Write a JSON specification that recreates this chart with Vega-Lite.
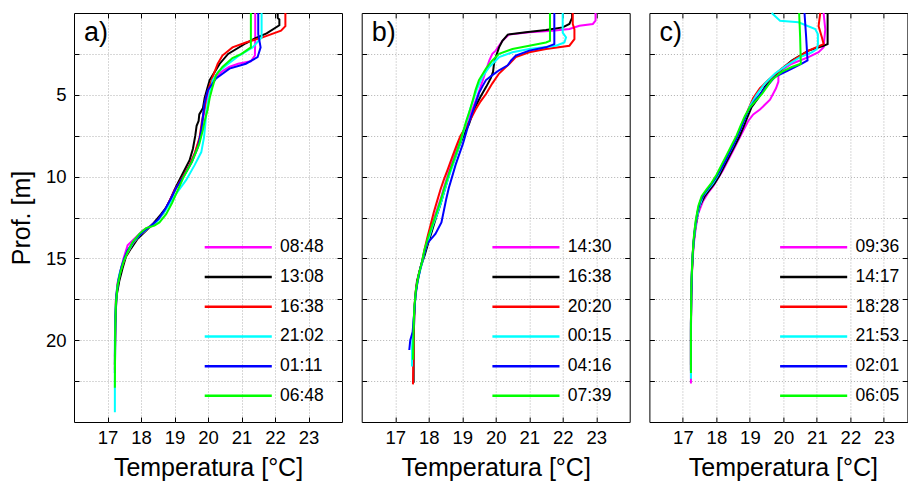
{
"$schema":"https://vega.github.io/schema/vega-lite/v6.json",
"padding":{"left":8,"top":8,"right":0,"bottom":0},
"background":"white",
"spacing":17.7,
"config":{
"font":"Liberation Sans",
"view":{"stroke":"#000","strokeWidth":1},
"axis":{"grid":true,"gridColor":"#b0b0b0","gridDash":[1,2],"gridWidth":1,"domain":false,"tickColor":"#000","tickSize":-5,"labelColor":"#000","titleColor":"#000","labelFont":"Liberation Sans","titleFont":"Liberation Sans","titleFontWeight":"normal","labelFontSize":18.5,"titleFontSize":25},
"title":{"font":"Liberation Sans","fontSize":27,"fontWeight":"normal","color":"#000","anchor":"start","frame":"group","offset":0,"baseline":"alphabetic","dx":10,"dy":41.5},
"legend":{"orient":"none","legendX":155.5,"legendY":225.6,"title":null,"symbolType":"M-5,0H5","symbolSize":180,"symbolStrokeWidth":2.5,"labelFontSize":17.5,"labelFont":"Liberation Sans","labelColor":"#000","labelOffset":33,"rowPadding":10.7,"padding":0}
},
"resolve":{"scale":{"color":"independent"},"legend":{"color":"independent"}},
"datasets":{
"a":[
{"h":"08:48","T":21.41,"d":0},{"h":"08:48","T":21.41,"d":1.5},{"h":"08:48","T":21.4,"d":2.6},{"h":"08:48","T":21.28,"d":2.95},{"h":"08:48","T":20.9,"d":3.1},{"h":"08:48","T":20.63,"d":3.3},{"h":"08:48","T":20.4,"d":3.6},{"h":"08:48","T":20.24,"d":3.9},{"h":"08:48","T":20.1,"d":4.4},{"h":"08:48","T":20.0,"d":5.0},{"h":"08:48","T":19.93,"d":5.6},{"h":"08:48","T":19.85,"d":6.5},{"h":"08:48","T":19.78,"d":7.5},{"h":"08:48","T":19.62,"d":8.5},{"h":"08:48","T":19.45,"d":9.3},{"h":"08:48","T":19.25,"d":10.0},{"h":"08:48","T":19.0,"d":10.8},{"h":"08:48","T":18.85,"d":11.5},{"h":"08:48","T":18.7,"d":12.1},{"h":"08:48","T":18.5,"d":12.6},{"h":"08:48","T":18.3,"d":13.0},{"h":"08:48","T":18.05,"d":13.3},{"h":"08:48","T":17.85,"d":13.7},{"h":"08:48","T":17.6,"d":14.2},{"h":"08:48","T":17.48,"d":15.0},{"h":"08:48","T":17.38,"d":15.8},{"h":"08:48","T":17.3,"d":16.5},{"h":"08:48","T":17.25,"d":17.6},{"h":"08:48","T":17.23,"d":19},{"h":"08:48","T":17.22,"d":21.0},
{"h":"13:08","T":22.08,"d":0},{"h":"13:08","T":22.08,"d":0.3},{"h":"13:08","T":22.13,"d":0.4},{"h":"13:08","T":22.13,"d":0.75},{"h":"13:08","T":21.75,"d":1.25},{"h":"13:08","T":21.4,"d":1.55},{"h":"13:08","T":21.13,"d":1.85},{"h":"13:08","T":20.6,"d":2.5},{"h":"13:08","T":20.35,"d":3.1},{"h":"13:08","T":20.2,"d":3.6},{"h":"13:08","T":20.05,"d":4.1},{"h":"13:08","T":19.98,"d":4.6},{"h":"13:08","T":19.9,"d":5.2},{"h":"13:08","T":19.85,"d":5.8},{"h":"13:08","T":19.74,"d":6.2},{"h":"13:08","T":19.72,"d":6.6},{"h":"13:08","T":19.66,"d":6.9},{"h":"13:08","T":19.62,"d":7.5},{"h":"13:08","T":19.55,"d":8.3},{"h":"13:08","T":19.45,"d":9.0},{"h":"13:08","T":19.25,"d":9.8},{"h":"13:08","T":19.05,"d":10.6},{"h":"13:08","T":18.9,"d":11.3},{"h":"13:08","T":18.75,"d":11.9},{"h":"13:08","T":18.6,"d":12.3},{"h":"13:08","T":18.35,"d":12.9},{"h":"13:08","T":18.1,"d":13.4},{"h":"13:08","T":17.9,"d":13.8},{"h":"13:08","T":17.7,"d":14.4},{"h":"13:08","T":17.55,"d":14.9},{"h":"13:08","T":17.45,"d":15.6},{"h":"13:08","T":17.35,"d":16.4},{"h":"13:08","T":17.27,"d":17.3},{"h":"13:08","T":17.23,"d":19},{"h":"13:08","T":17.22,"d":21.5},
{"h":"16:38","T":22.31,"d":0},{"h":"16:38","T":22.31,"d":0.8},{"h":"16:38","T":22.18,"d":1.08},{"h":"16:38","T":21.63,"d":1.49},{"h":"16:38","T":21.13,"d":1.8},{"h":"16:38","T":20.73,"d":2.1},{"h":"16:38","T":20.43,"d":2.6},{"h":"16:38","T":20.29,"d":3.1},{"h":"16:38","T":20.14,"d":3.9},{"h":"16:38","T":20.04,"d":4.5},{"h":"16:38","T":19.94,"d":5.15},{"h":"16:38","T":19.9,"d":5.8},{"h":"16:38","T":19.82,"d":6.6},{"h":"16:38","T":19.75,"d":7.6},{"h":"16:38","T":19.6,"d":8.6},{"h":"16:38","T":19.45,"d":9.3},{"h":"16:38","T":19.22,"d":10.1},{"h":"16:38","T":19.0,"d":10.85},{"h":"16:38","T":18.85,"d":11.5},{"h":"16:38","T":18.68,"d":12.2},{"h":"16:38","T":18.45,"d":12.8},{"h":"16:38","T":18.2,"d":13.2},{"h":"16:38","T":17.95,"d":13.6},{"h":"16:38","T":17.72,"d":14.2},{"h":"16:38","T":17.52,"d":15.0},{"h":"16:38","T":17.4,"d":15.7},{"h":"16:38","T":17.3,"d":16.6},{"h":"16:38","T":17.25,"d":17.6},{"h":"16:38","T":17.23,"d":19},{"h":"16:38","T":17.22,"d":21.8},
{"h":"21:02","T":21.6,"d":0},{"h":"21:02","T":21.6,"d":1.5},{"h":"21:02","T":21.33,"d":2.1},{"h":"21:02","T":20.93,"d":2.6},{"h":"21:02","T":20.54,"d":3.2},{"h":"21:02","T":20.3,"d":3.6},{"h":"21:02","T":20.14,"d":4.1},{"h":"21:02","T":20.06,"d":4.8},{"h":"21:02","T":20.0,"d":5.4},{"h":"21:02","T":19.95,"d":6.0},{"h":"21:02","T":19.92,"d":6.8},{"h":"21:02","T":19.88,"d":7.6},{"h":"21:02","T":19.8,"d":8.5},{"h":"21:02","T":19.6,"d":9.3},{"h":"21:02","T":19.35,"d":10.2},{"h":"21:02","T":19.1,"d":10.9},{"h":"21:02","T":18.9,"d":11.5},{"h":"21:02","T":18.72,"d":12.1},{"h":"21:02","T":18.5,"d":12.7},{"h":"21:02","T":18.25,"d":13.1},{"h":"21:02","T":18.0,"d":13.5},{"h":"21:02","T":17.78,"d":14.0},{"h":"21:02","T":17.58,"d":14.7},{"h":"21:02","T":17.45,"d":15.3},{"h":"21:02","T":17.35,"d":16.0},{"h":"21:02","T":17.28,"d":16.9},{"h":"21:02","T":17.24,"d":18},{"h":"21:02","T":17.22,"d":20},{"h":"21:02","T":17.22,"d":24.4},
{"h":"01:11","T":21.5,"d":0},{"h":"01:11","T":21.5,"d":1.3},{"h":"01:11","T":21.57,"d":2.1},{"h":"01:11","T":21.48,"d":2.7},{"h":"01:11","T":21.13,"d":3.1},{"h":"01:11","T":20.64,"d":3.4},{"h":"01:11","T":20.24,"d":4.0},{"h":"01:11","T":19.99,"d":4.74},{"h":"01:11","T":19.89,"d":5.56},{"h":"01:11","T":19.85,"d":6.3},{"h":"01:11","T":19.8,"d":7.2},{"h":"01:11","T":19.7,"d":8.2},{"h":"01:11","T":19.52,"d":9.1},{"h":"01:11","T":19.3,"d":9.9},{"h":"01:11","T":19.05,"d":10.7},{"h":"01:11","T":18.88,"d":11.4},{"h":"01:11","T":18.72,"d":12.0},{"h":"01:11","T":18.52,"d":12.6},{"h":"01:11","T":18.3,"d":13.0},{"h":"01:11","T":18.05,"d":13.4},{"h":"01:11","T":17.8,"d":13.9},{"h":"01:11","T":17.6,"d":14.5},{"h":"01:11","T":17.5,"d":15.0},{"h":"01:11","T":17.42,"d":15.5},{"h":"01:11","T":17.33,"d":16.3},{"h":"01:11","T":17.27,"d":17.2},{"h":"01:11","T":17.24,"d":18.5},{"h":"01:11","T":17.22,"d":22.0},
{"h":"06:48","T":21.28,"d":0},{"h":"06:48","T":21.28,"d":2.1},{"h":"06:48","T":21.0,"d":2.5},{"h":"06:48","T":20.73,"d":2.75},{"h":"06:48","T":20.43,"d":3.3},{"h":"06:48","T":20.24,"d":3.8},{"h":"06:48","T":20.14,"d":4.5},{"h":"06:48","T":20.05,"d":5.2},{"h":"06:48","T":19.99,"d":5.9},{"h":"06:48","T":19.9,"d":6.6},{"h":"06:48","T":19.84,"d":7.2},{"h":"06:48","T":19.74,"d":8.0},{"h":"06:48","T":19.52,"d":9.1},{"h":"06:48","T":19.28,"d":10.0},{"h":"06:48","T":19.08,"d":10.9},{"h":"06:48","T":18.93,"d":11.6},{"h":"06:48","T":18.75,"d":12.3},{"h":"06:48","T":18.55,"d":12.8},{"h":"06:48","T":18.4,"d":13.0},{"h":"06:48","T":18.15,"d":13.15},{"h":"06:48","T":17.95,"d":13.5},{"h":"06:48","T":17.75,"d":14.0},{"h":"06:48","T":17.6,"d":14.6},{"h":"06:48","T":17.48,"d":15.2},{"h":"06:48","T":17.38,"d":15.9},{"h":"06:48","T":17.3,"d":16.7},{"h":"06:48","T":17.25,"d":17.8},{"h":"06:48","T":17.23,"d":19.5},{"h":"06:48","T":17.22,"d":22.9}
],
"b":[
{"h":"14:30","T":22.98,"d":0},{"h":"14:30","T":22.98,"d":0.47},{"h":"14:30","T":22.9,"d":0.67},{"h":"14:30","T":22.5,"d":0.78},{"h":"14:30","T":22.2,"d":0.98},{"h":"14:30","T":21.7,"d":1.08},{"h":"14:30","T":21.0,"d":1.18},{"h":"14:30","T":20.4,"d":1.32},{"h":"14:30","T":20.2,"d":1.7},{"h":"14:30","T":20.0,"d":2.3},{"h":"14:30","T":19.9,"d":2.5},{"h":"14:30","T":19.81,"d":2.9},{"h":"14:30","T":19.71,"d":3.5},{"h":"14:30","T":19.65,"d":3.9},{"h":"14:30","T":19.55,"d":4.5},{"h":"14:30","T":19.45,"d":5.1},{"h":"14:30","T":19.32,"d":5.8},{"h":"14:30","T":19.15,"d":6.6},{"h":"14:30","T":19.0,"d":7.4},{"h":"14:30","T":18.85,"d":8.2},{"h":"14:30","T":18.72,"d":9.0},{"h":"14:30","T":18.6,"d":9.7},{"h":"14:30","T":18.48,"d":10.5},{"h":"14:30","T":18.38,"d":11.2},{"h":"14:30","T":18.25,"d":12.0},{"h":"14:30","T":18.12,"d":12.8},{"h":"14:30","T":18.0,"d":13.6},{"h":"14:30","T":17.92,"d":14.3},{"h":"14:30","T":17.85,"d":14.9},{"h":"14:30","T":17.75,"d":15.6},{"h":"14:30","T":17.65,"d":16.5},{"h":"14:30","T":17.6,"d":17.3},{"h":"14:30","T":17.57,"d":18.5},{"h":"14:30","T":17.55,"d":20.0},
{"h":"16:38","T":22.28,"d":0},{"h":"16:38","T":22.28,"d":0.3},{"h":"16:38","T":22.2,"d":0.67},{"h":"16:38","T":22.0,"d":0.88},{"h":"16:38","T":21.5,"d":1.04},{"h":"16:38","T":20.9,"d":1.18},{"h":"16:38","T":20.36,"d":1.32},{"h":"16:38","T":20.2,"d":1.7},{"h":"16:38","T":20.1,"d":2.1},{"h":"16:38","T":20.0,"d":2.7},{"h":"16:38","T":19.95,"d":3.1},{"h":"16:38","T":19.92,"d":3.6},{"h":"16:38","T":19.85,"d":4.0},{"h":"16:38","T":19.72,"d":4.5},{"h":"16:38","T":19.55,"d":5.1},{"h":"16:38","T":19.4,"d":5.7},{"h":"16:38","T":19.3,"d":6.2},{"h":"16:38","T":19.2,"d":6.8},{"h":"16:38","T":19.1,"d":7.2},{"h":"16:38","T":19.0,"d":7.7},{"h":"16:38","T":18.9,"d":8.2},{"h":"16:38","T":18.78,"d":8.9},{"h":"16:38","T":18.65,"d":9.6},{"h":"16:38","T":18.55,"d":10.3},{"h":"16:38","T":18.45,"d":11.0},{"h":"16:38","T":18.35,"d":11.7},{"h":"16:38","T":18.22,"d":12.5},{"h":"16:38","T":18.1,"d":13.3},{"h":"16:38","T":17.98,"d":14.1},{"h":"16:38","T":17.88,"d":14.8},{"h":"16:38","T":17.75,"d":15.6},{"h":"16:38","T":17.65,"d":16.4},{"h":"16:38","T":17.6,"d":17.3},{"h":"16:38","T":17.57,"d":18.5},{"h":"16:38","T":17.55,"d":20},{"h":"16:38","T":17.55,"d":22.6},
{"h":"20:20","T":22.3,"d":0},{"h":"20:20","T":22.3,"d":0.67},{"h":"20:20","T":22.35,"d":1.0},{"h":"20:20","T":22.35,"d":1.6},{"h":"20:20","T":22.2,"d":2.0},{"h":"20:20","T":21.5,"d":2.2},{"h":"20:20","T":21.0,"d":2.4},{"h":"20:20","T":20.6,"d":2.7},{"h":"20:20","T":20.41,"d":3.1},{"h":"20:20","T":20.1,"d":3.7},{"h":"20:20","T":19.9,"d":4.3},{"h":"20:20","T":19.71,"d":4.95},{"h":"20:20","T":19.55,"d":5.4},{"h":"20:20","T":19.4,"d":5.9},{"h":"20:20","T":19.25,"d":6.5},{"h":"20:20","T":19.1,"d":7.0},{"h":"20:20","T":18.95,"d":7.5},{"h":"20:20","T":18.85,"d":8.0},{"h":"20:20","T":18.72,"d":8.7},{"h":"20:20","T":18.58,"d":9.5},{"h":"20:20","T":18.45,"d":10.2},{"h":"20:20","T":18.35,"d":10.8},{"h":"20:20","T":18.25,"d":11.5},{"h":"20:20","T":18.15,"d":12.2},{"h":"20:20","T":18.05,"d":13.0},{"h":"20:20","T":17.95,"d":13.8},{"h":"20:20","T":17.87,"d":14.5},{"h":"20:20","T":17.8,"d":15.2},{"h":"20:20","T":17.7,"d":16.0},{"h":"20:20","T":17.62,"d":16.9},{"h":"20:20","T":17.58,"d":17.8},{"h":"20:20","T":17.55,"d":19},{"h":"20:20","T":17.55,"d":20.5},{"h":"20:20","T":17.53,"d":22.7},
{"h":"00:15","T":22.0,"d":0},{"h":"00:15","T":22.0,"d":1.2},{"h":"00:15","T":22.1,"d":1.49},{"h":"00:15","T":22.05,"d":1.8},{"h":"00:15","T":21.8,"d":2.0},{"h":"00:15","T":21.0,"d":2.2},{"h":"00:15","T":20.5,"d":2.4},{"h":"00:15","T":20.1,"d":2.7},{"h":"00:15","T":19.81,"d":3.3},{"h":"00:15","T":19.6,"d":3.9},{"h":"00:15","T":19.45,"d":4.6},{"h":"00:15","T":19.35,"d":5.2},{"h":"00:15","T":19.25,"d":5.8},{"h":"00:15","T":19.15,"d":6.5},{"h":"00:15","T":19.05,"d":7.2},{"h":"00:15","T":18.95,"d":7.9},{"h":"00:15","T":18.85,"d":8.5},{"h":"00:15","T":18.72,"d":9.3},{"h":"00:15","T":18.6,"d":10.0},{"h":"00:15","T":18.48,"d":10.8},{"h":"00:15","T":18.38,"d":11.5},{"h":"00:15","T":18.25,"d":12.3},{"h":"00:15","T":18.12,"d":13.0},{"h":"00:15","T":18.0,"d":13.8},{"h":"00:15","T":17.88,"d":14.6},{"h":"00:15","T":17.8,"d":15.3},{"h":"00:15","T":17.7,"d":16.1},{"h":"00:15","T":17.62,"d":17.0},{"h":"00:15","T":17.57,"d":18.2},{"h":"00:15","T":17.53,"d":19.5},{"h":"00:15","T":17.5,"d":20.5},{"h":"00:15","T":17.5,"d":21.6},
{"h":"04:16","T":21.75,"d":0},{"h":"04:16","T":21.75,"d":1.9},{"h":"04:16","T":21.5,"d":2.1},{"h":"04:16","T":21.0,"d":2.3},{"h":"04:16","T":20.6,"d":2.6},{"h":"04:16","T":20.46,"d":2.9},{"h":"04:16","T":20.36,"d":3.2},{"h":"04:16","T":20.1,"d":3.5},{"h":"04:16","T":19.9,"d":3.8},{"h":"04:16","T":19.71,"d":4.1},{"h":"04:16","T":19.6,"d":4.5},{"h":"04:16","T":19.5,"d":4.9},{"h":"04:16","T":19.42,"d":5.4},{"h":"04:16","T":19.32,"d":6.0},{"h":"04:16","T":19.22,"d":6.6},{"h":"04:16","T":19.12,"d":7.3},{"h":"04:16","T":19.02,"d":8.0},{"h":"04:16","T":18.9,"d":8.7},{"h":"04:16","T":18.8,"d":9.3},{"h":"04:16","T":18.7,"d":10.0},{"h":"04:16","T":18.6,"d":10.7},{"h":"04:16","T":18.52,"d":11.4},{"h":"04:16","T":18.45,"d":12.1},{"h":"04:16","T":18.38,"d":12.8},{"h":"04:16","T":18.2,"d":13.5},{"h":"04:16","T":17.95,"d":14.1},{"h":"04:16","T":17.85,"d":14.8},{"h":"04:16","T":17.75,"d":15.6},{"h":"04:16","T":17.66,"d":16.5},{"h":"04:16","T":17.6,"d":17.4},{"h":"04:16","T":17.56,"d":18.5},{"h":"04:16","T":17.52,"d":19.5},{"h":"04:16","T":17.45,"d":20.0},{"h":"04:16","T":17.42,"d":20.6},
{"h":"07:39","T":21.62,"d":0},{"h":"07:39","T":21.62,"d":1.7},{"h":"07:39","T":21.5,"d":1.8},{"h":"07:39","T":21.0,"d":2.0},{"h":"07:39","T":20.5,"d":2.2},{"h":"07:39","T":20.1,"d":2.5},{"h":"07:39","T":19.9,"d":2.9},{"h":"07:39","T":19.71,"d":3.4},{"h":"07:39","T":19.5,"d":4.1},{"h":"07:39","T":19.4,"d":4.7},{"h":"07:39","T":19.32,"d":5.3},{"h":"07:39","T":19.22,"d":6.0},{"h":"07:39","T":19.12,"d":6.6},{"h":"07:39","T":19.02,"d":7.3},{"h":"07:39","T":18.92,"d":8.0},{"h":"07:39","T":18.8,"d":8.7},{"h":"07:39","T":18.68,"d":9.4},{"h":"07:39","T":18.56,"d":10.1},{"h":"07:39","T":18.45,"d":10.8},{"h":"07:39","T":18.35,"d":11.5},{"h":"07:39","T":18.22,"d":12.3},{"h":"07:39","T":18.1,"d":13.0},{"h":"07:39","T":17.97,"d":13.8},{"h":"07:39","T":17.87,"d":14.5},{"h":"07:39","T":17.8,"d":15.2},{"h":"07:39","T":17.7,"d":16.0},{"h":"07:39","T":17.62,"d":16.9},{"h":"07:39","T":17.57,"d":18.0},{"h":"07:39","T":17.55,"d":19.2},{"h":"07:39","T":17.53,"d":21.2}
],
"c":[
{"h":"09:36","T":21.2,"d":0},{"h":"09:36","T":21.25,"d":1.0},{"h":"09:36","T":21.2,"d":2.1},{"h":"09:36","T":21.05,"d":2.4},{"h":"09:36","T":20.75,"d":2.7},{"h":"09:36","T":20.25,"d":3.1},{"h":"09:36","T":19.95,"d":3.5},{"h":"09:36","T":19.85,"d":3.8},{"h":"09:36","T":19.85,"d":4.2},{"h":"09:36","T":19.78,"d":4.6},{"h":"09:36","T":19.6,"d":5.3},{"h":"09:36","T":19.3,"d":5.9},{"h":"09:36","T":19.1,"d":6.2},{"h":"09:36","T":18.95,"d":6.6},{"h":"09:36","T":18.8,"d":7.2},{"h":"09:36","T":18.65,"d":7.8},{"h":"09:36","T":18.5,"d":8.4},{"h":"09:36","T":18.35,"d":9.0},{"h":"09:36","T":18.2,"d":9.6},{"h":"09:36","T":18.05,"d":10.1},{"h":"09:36","T":17.9,"d":10.6},{"h":"09:36","T":17.75,"d":11.0},{"h":"09:36","T":17.6,"d":11.5},{"h":"09:36","T":17.45,"d":12.3},{"h":"09:36","T":17.38,"d":13.2},{"h":"09:36","T":17.32,"d":14.2},{"h":"09:36","T":17.28,"d":15.5},{"h":"09:36","T":17.25,"d":17},{"h":"09:36","T":17.24,"d":19},{"h":"09:36","T":17.24,"d":22.65},
{"h":"14:17","T":21.32,"d":0},{"h":"14:17","T":21.32,"d":1.9},{"h":"14:17","T":21.2,"d":2.0},{"h":"14:17","T":20.75,"d":2.3},{"h":"14:17","T":20.25,"d":2.9},{"h":"14:17","T":19.85,"d":3.6},{"h":"14:17","T":19.45,"d":4.5},{"h":"14:17","T":19.25,"d":5.2},{"h":"14:17","T":19.05,"d":5.76},{"h":"14:17","T":18.92,"d":6.4},{"h":"14:17","T":18.8,"d":7.0},{"h":"14:17","T":18.7,"d":7.5},{"h":"14:17","T":18.55,"d":8.1},{"h":"14:17","T":18.4,"d":8.7},{"h":"14:17","T":18.25,"d":9.3},{"h":"14:17","T":18.1,"d":9.9},{"h":"14:17","T":17.95,"d":10.4},{"h":"14:17","T":17.8,"d":10.8},{"h":"14:17","T":17.65,"d":11.2},{"h":"14:17","T":17.5,"d":11.8},{"h":"14:17","T":17.42,"d":12.5},{"h":"14:17","T":17.35,"d":13.4},{"h":"14:17","T":17.3,"d":14.5},{"h":"14:17","T":17.27,"d":15.8},{"h":"14:17","T":17.25,"d":17.5},{"h":"14:17","T":17.24,"d":19.5},{"h":"14:17","T":17.24,"d":21.5},
{"h":"18:28","T":21.1,"d":0},{"h":"18:28","T":21.05,"d":0.8},{"h":"18:28","T":21.15,"d":1.5},{"h":"18:28","T":21.2,"d":1.9},{"h":"18:28","T":20.75,"d":2.3},{"h":"18:28","T":20.35,"d":2.8},{"h":"18:28","T":19.95,"d":3.4},{"h":"18:28","T":19.55,"d":4.1},{"h":"18:28","T":19.3,"d":4.6},{"h":"18:28","T":19.1,"d":5.2},{"h":"18:28","T":18.97,"d":5.8},{"h":"18:28","T":18.85,"d":6.4},{"h":"18:28","T":18.72,"d":7.0},{"h":"18:28","T":18.6,"d":7.6},{"h":"18:28","T":18.45,"d":8.2},{"h":"18:28","T":18.3,"d":8.8},{"h":"18:28","T":18.15,"d":9.4},{"h":"18:28","T":18.0,"d":10.0},{"h":"18:28","T":17.85,"d":10.5},{"h":"18:28","T":17.7,"d":10.9},{"h":"18:28","T":17.55,"d":11.4},{"h":"18:28","T":17.45,"d":12.1},{"h":"18:28","T":17.38,"d":13.0},{"h":"18:28","T":17.32,"d":14.0},{"h":"18:28","T":17.28,"d":15.3},{"h":"18:28","T":17.25,"d":17},{"h":"18:28","T":17.24,"d":19},{"h":"18:28","T":17.24,"d":21.8},
{"h":"21:53","T":19.65,"d":0},{"h":"21:53","T":19.9,"d":0.47},{"h":"21:53","T":20.45,"d":0.57},{"h":"21:53","T":20.95,"d":0.98},{"h":"21:53","T":21.03,"d":1.3},{"h":"21:53","T":21.03,"d":1.9},{"h":"21:53","T":21.0,"d":2.2},{"h":"21:53","T":20.85,"d":2.4},{"h":"21:53","T":20.5,"d":2.7},{"h":"21:53","T":20.1,"d":3.2},{"h":"21:53","T":19.75,"d":3.7},{"h":"21:53","T":19.45,"d":4.3},{"h":"21:53","T":19.2,"d":5.0},{"h":"21:53","T":19.0,"d":5.7},{"h":"21:53","T":18.88,"d":6.3},{"h":"21:53","T":18.76,"d":6.9},{"h":"21:53","T":18.63,"d":7.5},{"h":"21:53","T":18.5,"d":8.1},{"h":"21:53","T":18.35,"d":8.7},{"h":"21:53","T":18.2,"d":9.3},{"h":"21:53","T":18.05,"d":9.9},{"h":"21:53","T":17.9,"d":10.4},{"h":"21:53","T":17.75,"d":10.8},{"h":"21:53","T":17.6,"d":11.2},{"h":"21:53","T":17.48,"d":11.9},{"h":"21:53","T":17.4,"d":12.7},{"h":"21:53","T":17.33,"d":13.8},{"h":"21:53","T":17.28,"d":15.2},{"h":"21:53","T":17.25,"d":17},{"h":"21:53","T":17.24,"d":19},{"h":"21:53","T":17.24,"d":22.35},
{"h":"02:01","T":20.63,"d":0},{"h":"02:01","T":20.68,"d":1.5},{"h":"02:01","T":20.72,"d":2.9},{"h":"02:01","T":20.55,"d":3.1},{"h":"02:01","T":20.15,"d":3.5},{"h":"02:01","T":19.75,"d":3.9},{"h":"02:01","T":19.45,"d":4.6},{"h":"02:01","T":19.15,"d":5.35},{"h":"02:01","T":18.95,"d":5.96},{"h":"02:01","T":18.82,"d":6.6},{"h":"02:01","T":18.7,"d":7.2},{"h":"02:01","T":18.57,"d":7.8},{"h":"02:01","T":18.42,"d":8.4},{"h":"02:01","T":18.28,"d":9.0},{"h":"02:01","T":18.12,"d":9.6},{"h":"02:01","T":17.97,"d":10.1},{"h":"02:01","T":17.8,"d":10.6},{"h":"02:01","T":17.65,"d":11.0},{"h":"02:01","T":17.52,"d":11.5},{"h":"02:01","T":17.43,"d":12.2},{"h":"02:01","T":17.36,"d":13.1},{"h":"02:01","T":17.31,"d":14.2},{"h":"02:01","T":17.27,"d":15.6},{"h":"02:01","T":17.25,"d":17.2},{"h":"02:01","T":17.24,"d":19},{"h":"02:01","T":17.24,"d":21.9},
{"h":"06:05","T":20.47,"d":0},{"h":"06:05","T":20.5,"d":1.5},{"h":"06:05","T":20.52,"d":3.1},{"h":"06:05","T":20.25,"d":3.3},{"h":"06:05","T":19.95,"d":3.6},{"h":"06:05","T":19.65,"d":4.1},{"h":"06:05","T":19.36,"d":4.95},{"h":"06:05","T":19.0,"d":5.76},{"h":"06:05","T":18.85,"d":6.3},{"h":"06:05","T":18.72,"d":6.9},{"h":"06:05","T":18.6,"d":7.5},{"h":"06:05","T":18.45,"d":8.1},{"h":"06:05","T":18.3,"d":8.7},{"h":"06:05","T":18.15,"d":9.3},{"h":"06:05","T":18.0,"d":9.9},{"h":"06:05","T":17.85,"d":10.4},{"h":"06:05","T":17.7,"d":10.8},{"h":"06:05","T":17.56,"d":11.2},{"h":"06:05","T":17.46,"d":11.8},{"h":"06:05","T":17.38,"d":12.7},{"h":"06:05","T":17.32,"d":13.8},{"h":"06:05","T":17.28,"d":15.2},{"h":"06:05","T":17.25,"d":16.8},{"h":"06:05","T":17.24,"d":19},{"h":"06:05","T":17.24,"d":22.0}
]
},
"hconcat":[
{"width":268,"height":409,"title":{"text":"a)"},"data":{"name":"a"},
"resolve":{"axis":{"x":"independent","y":"independent"}},
"layer":[
{"mark":{"type":"line","strokeWidth":2},
"encoding":{
"x":{"field":"T","type":"quantitative","scale":{"domain":[16,24],"nice":false,"zero":false},"axis":{"values":[17,18,19,20,21,22,23],"title":"Temperatura [°C]","labelPadding":11,"titlePadding":9}},
"y":{"field":"d","type":"quantitative","scale":{"domain":[0,25],"reverse":true,"nice":false,"zero":false},"axis":{"values":[2.5,5,7.5,10,12.5,15,17.5,20,22.5],"labelExpr":"datum.value % 5 === 0 ? datum.label : ''","title":"Prof. [m]","labelPadding":13,"titlePadding":11}},
"color":{"field":"h","type":"nominal","scale":{"domain":["08:48","13:08","16:38","21:02","01:11","06:48"],"range":["#ff00ff","#000000","#ff0000","#00ffff","#0000ff","#00ff00"]}},
"order":{"field":"d","type":"quantitative"}}},
{"mark":{"type":"line","opacity":0},
"encoding":{
"x":{"field":"T","type":"quantitative","scale":{"domain":[16,24],"nice":false,"zero":false},"axis":{"orient":"top","values":[17,18,19,20,21,22,23],"labels":false,"grid":false,"title":null}},
"y":{"field":"d","type":"quantitative","scale":{"domain":[0,25],"reverse":true,"nice":false,"zero":false},"axis":{"orient":"right","values":[2.5,5,7.5,10,12.5,15,17.5,20,22.5],"labels":false,"grid":false,"title":null}},
"detail":{"field":"h"},
"order":{"field":"d","type":"quantitative"}}}
]},
{"width":268,"height":409,"title":{"text":"b)"},"data":{"name":"b"},
"resolve":{"axis":{"x":"independent","y":"independent"}},
"layer":[
{"mark":{"type":"line","strokeWidth":2},
"encoding":{
"x":{"field":"T","type":"quantitative","scale":{"domain":[16,24],"nice":false,"zero":false},"axis":{"values":[17,18,19,20,21,22,23],"title":"Temperatura [°C]","labelPadding":11,"titlePadding":9}},
"y":{"field":"d","type":"quantitative","scale":{"domain":[0,25],"reverse":true,"nice":false,"zero":false},"axis":{"values":[2.5,5,7.5,10,12.5,15,17.5,20,22.5],"labels":false,"title":null}},
"color":{"field":"h","type":"nominal","scale":{"domain":["14:30","16:38","20:20","00:15","04:16","07:39"],"range":["#ff00ff","#000000","#ff0000","#00ffff","#0000ff","#00ff00"]}},
"order":{"field":"d","type":"quantitative"}}},
{"mark":{"type":"line","opacity":0},
"encoding":{
"x":{"field":"T","type":"quantitative","scale":{"domain":[16,24],"nice":false,"zero":false},"axis":{"orient":"top","values":[17,18,19,20,21,22,23],"labels":false,"grid":false,"title":null}},
"y":{"field":"d","type":"quantitative","scale":{"domain":[0,25],"reverse":true,"nice":false,"zero":false},"axis":{"orient":"right","values":[2.5,5,7.5,10,12.5,15,17.5,20,22.5],"labels":false,"grid":false,"title":null}},
"detail":{"field":"h"},
"order":{"field":"d","type":"quantitative"}}}
]},
{"width":258,"height":409,"title":{"text":"c)"},"data":{"name":"c"},
"resolve":{"axis":{"x":"independent","y":"independent"}},
"layer":[
{"mark":{"type":"line","strokeWidth":2},
"encoding":{
"x":{"field":"T","type":"quantitative","scale":{"domain":[16,23.7015],"nice":false,"zero":false},"axis":{"values":[17,18,19,20,21,22,23],"title":"Temperatura [°C]","labelPadding":11,"titlePadding":9,"titleX":133.5}},
"y":{"field":"d","type":"quantitative","scale":{"domain":[0,25],"reverse":true,"nice":false,"zero":false},"axis":{"values":[2.5,5,7.5,10,12.5,15,17.5,20,22.5],"labels":false,"title":null}},
"color":{"field":"h","type":"nominal","scale":{"domain":["09:36","14:17","18:28","21:53","02:01","06:05"],"range":["#ff00ff","#000000","#ff0000","#00ffff","#0000ff","#00ff00"]}},
"order":{"field":"d","type":"quantitative"}}},
{"mark":{"type":"line","opacity":0},
"encoding":{
"x":{"field":"T","type":"quantitative","scale":{"domain":[16,23.7015],"nice":false,"zero":false},"axis":{"orient":"top","values":[17,18,19,20,21,22,23],"labels":false,"grid":false,"title":null}},
"y":{"field":"d","type":"quantitative","scale":{"domain":[0,25],"reverse":true,"nice":false,"zero":false},"axis":{"orient":"right","values":[2.5,5,7.5,10,12.5,15,17.5,20,22.5],"labels":false,"grid":false,"title":null}},
"detail":{"field":"h"},
"order":{"field":"d","type":"quantitative"}}}
]}
]
}
